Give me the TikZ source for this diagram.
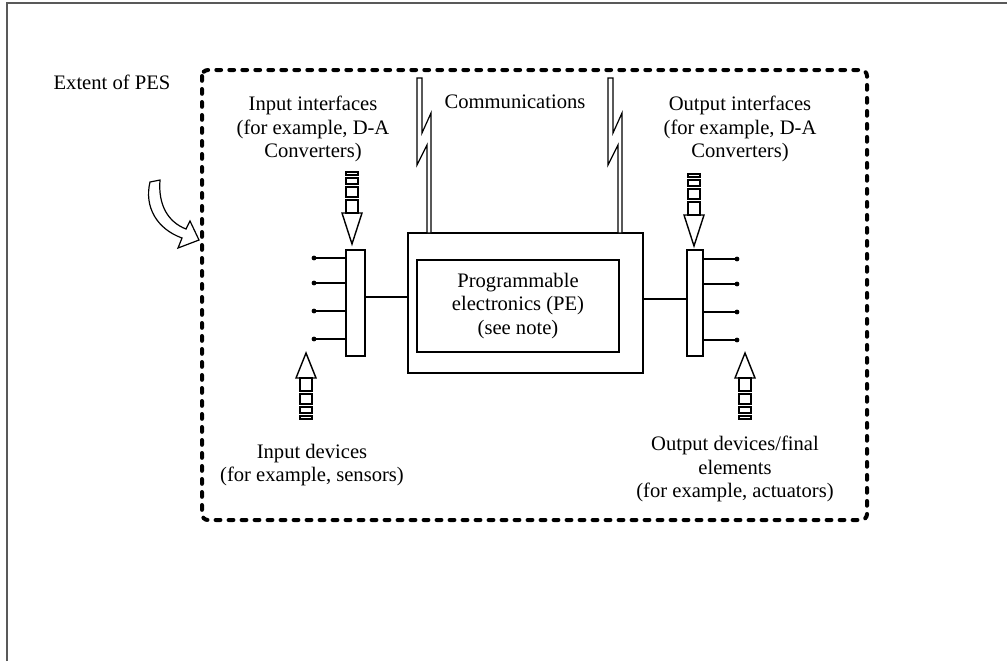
\documentclass[tikz,border=0pt]{standalone}
\usepackage{fontspec}
\setmainfont{Liberation Serif}

% block arrow with a shaft of small boxes: x, base, direction (1 down, -1 up), head length
\newcommand{\hollowarrow}[4]{%
  \begin{scope}[shift={(#1,#2)},yscale=#3]
    \draw (-6,0) -- (-10,0) -- (0,#4) -- (10,0) -- (6,0);
    \foreach \a/\b in {0/-13,-16/-26,-29/-35,-38/-41}
      \draw (-6,\a) rectangle (6,\b);
  \end{scope}}

\begin{document}
\begin{tikzpicture}[x=0.5pt,y=-0.5pt,line width=0.7pt,
    every node/.style={font=\fontsize{10.3pt}{11.75pt}\selectfont}]
  \useasboundingbox (0,0) rectangle (1007,661);
  % page frame
  \draw[gray!70!black, line width=1pt] (7,661) -- (7,3) -- (1007,3);
  % extent of PES
  \draw[line width=2pt, dash pattern=on 2.4pt off 4.1pt, line cap=round, rounded corners=3pt]
    (202,70) rectangle (867,520);
  \node (extlabel) at (112,82) {Extent of PES};
  \draw[fill=white, line width=0.6pt] (150,182) .. controls (144,207) and (157,229) .. (182,238)
    -- (178,248) -- (199,240) -- (190,221) -- (186,229)
    .. controls (168,222) and (158,205) .. (160,180) -- cycle;

  % programmable electronics
  \node[draw, minimum width=117.5pt, minimum height=70pt, inner sep=0] (pe) at (525.5,303) {};
  \node[draw, minimum width=101pt, minimum height=46pt, align=center] (pecore) at (518,306)
    {Programmable\\electronics (PE)\\(see note)};

  % interfaces
  \node[draw, minimum width=9.5pt, minimum height=53pt, inner sep=0] (inbar) at (355.5,303) {};
  \node[draw, minimum width=8pt, minimum height=53pt, inner sep=0] (outbar) at (695,303) {};
  \draw ([yshift=3pt]inbar.east) -- ([yshift=3pt]inbar.east -| pe.west);
  \draw ([yshift=2pt]pe.east) -- ([yshift=2pt]pe.east -| outbar.west);
  \foreach \y [count=\i] in {258,283,311,339} {
    \coordinate (in\i) at (314,\y);
    \draw (inbar.west |- in\i) -- (in\i);
    \fill (in\i) circle (1.2pt);
  }
  \foreach \y [count=\i] in {259,284,312,340} {
    \coordinate (out\i) at (737,\y);
    \draw (outbar.east |- out\i) -- (out\i);
    \fill (out\i) circle (1.2pt);
  }

  % communications
  \node (commlabel) at (515,102) {Communications};
  \foreach \dx in {0,191}
    \draw[shift={(\dx,0)}, line width=0.6pt, fill=white] (417,78) -- (417,165) -- (427,145)
      -- (427,233) -- (431,233) -- (431,113) -- (422,133) -- (422,78) -- cycle;

  % labels
  \node[align=center] (inlabel) at (313,129) {Input interfaces\\(for example, D-A\\Converters)};
  \node[align=center] (outlabel) at (740,129) {Output interfaces\\(for example, D-A\\Converters)};
  \node[align=center] (indevlabel) at (312,465) {Input devices\\(for example, sensors)};
  \node[align=center] (outdevlabel) at (735,469) {Output devices/final\\elements\\(for example, actuators)};

  % signal arrows
  \hollowarrow{352}{213}{1}{31}
  \hollowarrow{694}{215}{1}{31}
  \hollowarrow{306}{378}{-1}{25}
  \hollowarrow{745}{378}{-1}{25}
\end{tikzpicture}
\end{document}
